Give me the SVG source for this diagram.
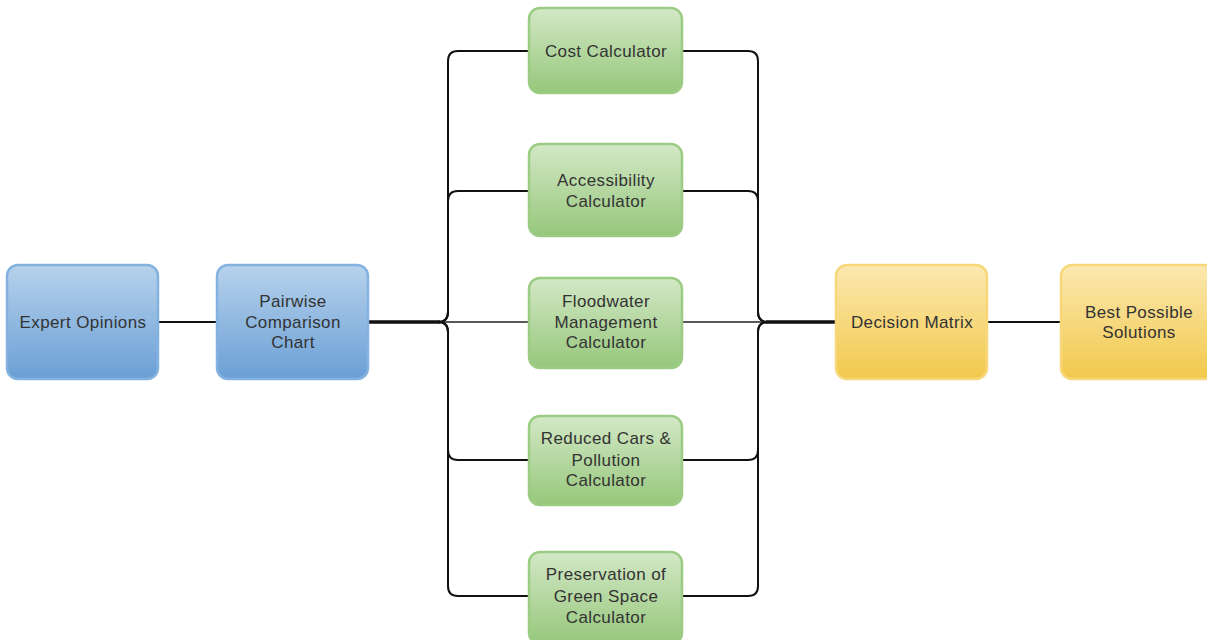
<svg xmlns="http://www.w3.org/2000/svg" width="1207" height="640" viewBox="0 0 1207 640">
<defs>
<linearGradient id="gBlue" x1="0" y1="0" x2="0" y2="1"><stop offset="0" stop-color="#b7d2ec"/><stop offset="1" stop-color="#6a9fd5"/></linearGradient>
<linearGradient id="gGreen" x1="0" y1="0" x2="0" y2="1"><stop offset="0" stop-color="#d3e8c6"/><stop offset="1" stop-color="#96c77b"/></linearGradient>
<linearGradient id="gYellow" x1="0" y1="0" x2="0" y2="1"><stop offset="0" stop-color="#fbe8b0"/><stop offset="1" stop-color="#f2c94c"/></linearGradient>
</defs>
<style>
.blue{fill:url(#gBlue);stroke:#84b2e0;stroke-width:2.5}
.green{fill:url(#gGreen);stroke:#9ccc84;stroke-width:2.5}
.yellow{fill:url(#gYellow);stroke:#f6d87a;stroke-width:2.5}
text{font-family:"Liberation Sans",Arial,sans-serif;font-size:17px;fill:#333;text-anchor:middle;letter-spacing:0.4px}
.c{fill:none;stroke:#111;stroke-width:2}
.thin{fill:none;stroke:#222;stroke-width:1.5}
.trunk{fill:none;stroke:#111;stroke-width:3.5}
</style>
<g id="connectors">
<path class="c" d="M158,322 H217"/>
<path class="trunk" d="M368,322 H440"/>
<path class="c" d="M368,322 H438 Q448,322 448,312 V61 Q448,51 458,51 H529"/>
<path class="c" d="M368,322 H438 Q448,322 448,312 V201 Q448,191 458,191 H529"/>
<path class="thin" d="M368,322 H529"/>
<path class="c" d="M368,322 H438 Q448,322 448,332 V450 Q448,460 458,460 H529"/>
<path class="c" d="M368,322 H438 Q448,322 448,332 V586 Q448,596 458,596 H529"/>
<path class="c" d="M682,51 H748 Q758,51 758,61 V312 Q758,322 768,322 H836"/>
<path class="c" d="M682,191 H748 Q758,191 758,201 V312 Q758,322 768,322 H836"/>
<path class="thin" d="M682,322 H836"/>
<path class="c" d="M682,460 H748 Q758,460 758,450 V332 Q758,322 768,322 H836"/>
<path class="c" d="M682,596 H748 Q758,596 758,586 V332 Q758,322 768,322 H836"/>
<path class="trunk" d="M766,322 H836"/>
<path class="c" d="M987,322 H1061"/>
</g>
<g id="expert"><rect class="blue" x="7" y="265" width="151" height="114" rx="11"/><text x="83" y="328">Expert Opinions</text></g>
<g id="pairwise"><rect class="blue" x="217" y="265" width="151" height="114" rx="11"/><text x="293" y="307">Pairwise</text><text x="293" y="328">Comparison</text><text x="293" y="348">Chart</text></g>
<g id="cost"><rect class="green" x="529" y="8" width="153" height="85" rx="11"/><text x="606" y="57">Cost Calculator</text></g>
<g id="access"><rect class="green" x="529" y="144" width="153" height="92" rx="11"/><text x="606" y="186">Accessibility</text><text x="606" y="207">Calculator</text></g>
<g id="flood"><rect class="green" x="529" y="278" width="153" height="90" rx="11"/><text x="606" y="307">Floodwater</text><text x="606" y="328">Management</text><text x="606" y="348">Calculator</text></g>
<g id="reduced"><rect class="green" x="529" y="416" width="153" height="89" rx="11"/><text x="606" y="444">Reduced Cars &amp;</text><text x="606" y="466">Pollution</text><text x="606" y="486">Calculator</text></g>
<g id="preserve"><rect class="green" x="529" y="552" width="153" height="92" rx="11"/><text x="606" y="580">Preservation of</text><text x="606" y="602">Green Space</text><text x="606" y="623">Calculator</text></g>
<g id="decision"><rect class="yellow" x="836" y="265" width="151" height="114" rx="11"/><text x="912" y="328">Decision Matrix</text></g>
<g id="best"><rect class="yellow" x="1061" y="265" width="154" height="114" rx="11"/><text x="1139" y="318">Best Possible</text><text x="1139" y="338">Solutions</text></g>
</svg>
